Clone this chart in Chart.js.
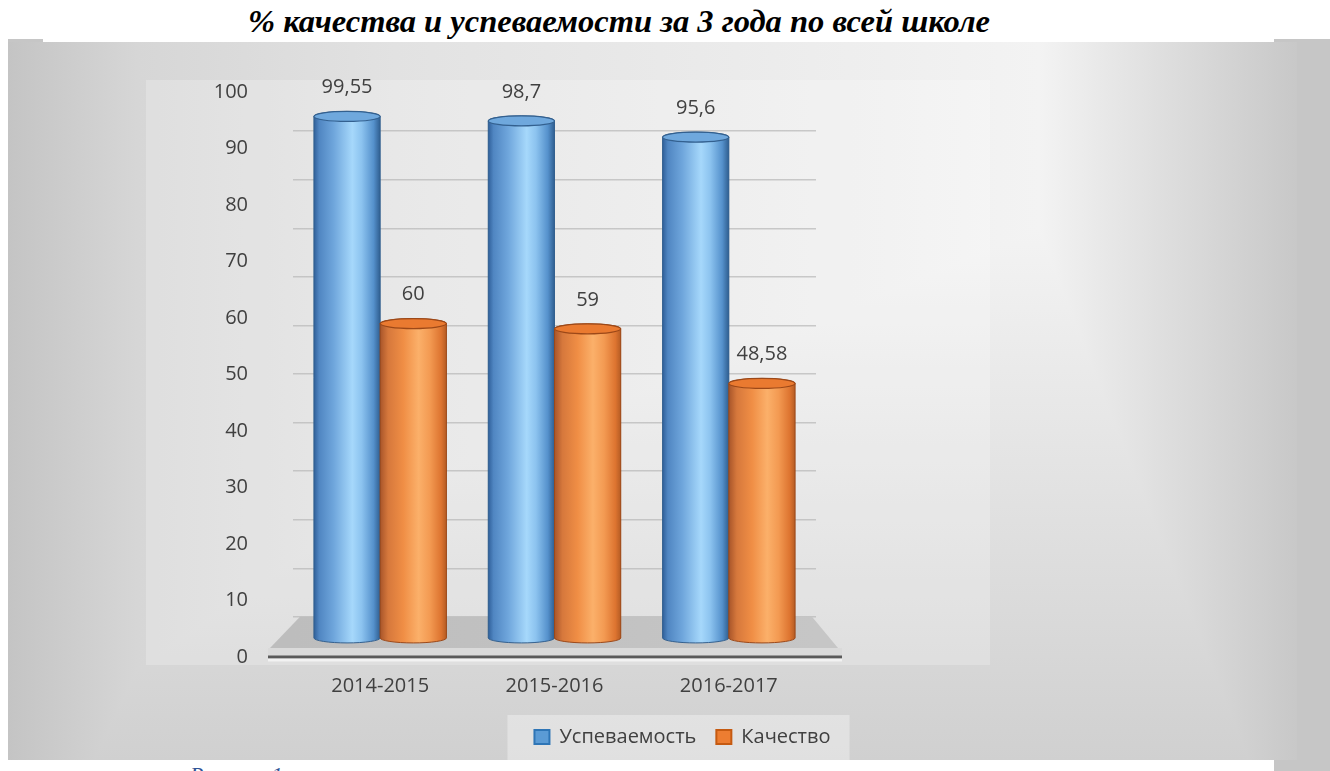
<!DOCTYPE html>
<html lang="ru">
<head>
<meta charset="utf-8">
<title>% качества и успеваемости за 3 года по всей школе</title>
<script src="https://cdn.jsdelivr.net/npm/chart.js@4.4.1/dist/chart.umd.min.js"></script>
<style>
    html, body { margin: 0; padding: 0; background: #fff; width: 1330px; height: 771px; overflow: hidden; position: relative; }
    #title { position: absolute; left: 0; width: 1238px; top: 3px; text-align: center; white-space: nowrap;
             font: italic bold 32.5px "Liberation Serif", "DejaVu Serif", serif; color: #000; }
    #strip { position: absolute; left: 1274px; top: 39px; width: 56px; height: 732px; background: #c6c6c6; }
    #chip { position: absolute; left: 8px; top: 39px; width: 35px; height: 4px; background: #c6c6c6; }
    #panel { position: absolute; left: 8px; top: 42px; width: 1289px; height: 718px; }
    #caption { position: absolute; left: 190px; top: 762px; font: italic 22px "Liberation Serif", serif; color: #2f5496; }
</style>
</head>
<body>
<div id="title">% качества и успеваемости за 3 года по всей школе</div>
<div id="strip"></div>
<div id="chip"></div>
<div id="panel"><canvas id="chart" width="1289" height="718"></canvas></div>
<div id="caption">Рисунок 1</div>
<script>
// 3D-style cylinder column chart (Excel look) drawn with Chart.js v4.

const CATEGORIES = ['2014-2015', '2015-2016', '2016-2017'];
const SERIES_NAMES = ['Успеваемость', 'Качество'];
const USPEVAEMOST = [99.55, 98.7, 95.6];
const KACHESTVO = [60, 59, 48.58];
const TICK_VALUES = [0, 10, 20, 30, 40, 50, 60, 70, 80, 90, 100];

const TEXT_COLOR = '#404040';
const FONT = 'Open Sans';

// three vertical scales share one chart area (page y 92..655):
// labels 0..100 at the front, columns a bit higher, back-wall grid further back
const AREA_TOP = 92, AREA_BOTTOM = 655;
const BAR_ZERO = 636, BAR_PX = 5.22;
const GRID_ZERO = 615, GRID_PX = 4.84;
const BAR_MIN = -(AREA_BOTTOM - BAR_ZERO) / BAR_PX;
const BAR_MAX = (BAR_ZERO - AREA_TOP) / BAR_PX;
const GRID_MIN = -(AREA_BOTTOM - GRID_ZERO) / GRID_PX;
const GRID_MAX = (GRID_ZERO - AREA_TOP) / GRID_PX;

const CYL = [
    { fill: '#5b9bd5', border: '#2e75b6', cap: '#6fa8dd', rim: '#33608f',
      stops: [[0, '#30609a'], [0.08, '#5086c2'], [0.3, '#6fa6dc'], [0.58, '#a6d8fb'],
              [0.72, '#8cc3ef'], [0.9, '#5591cc'], [1, '#2f5e90']] },
    { fill: '#ed7d31', border: '#c55a11', cap: '#ea7a30', rim: '#9c4818',
      stops: [[0, '#a8552a'], [0.12, '#d6783c'], [0.35, '#f08e45'], [0.58, '#fbb06a'],
              [0.75, '#f39a52'], [0.92, '#dd7430'], [1, '#b55c24']] }
];

function fmt(v) {
    return String(v).replace('.', ',');
}

const backgroundPlugin = {
    id: 'panelBackground',
    beforeDraw(chart) {
        const { ctx, width, height } = chart;
        ctx.save();
        const h = ctx.createLinearGradient(0, 0, width, 0);
        h.addColorStop(0, '#c4c4c4');
        h.addColorStop(0.1, '#d6d6d6');
        h.addColorStop(0.3, '#e2e2e2');
        h.addColorStop(0.8, '#f3f3f3');
        h.addColorStop(1, '#c8c8c8');
        ctx.fillStyle = h;
        ctx.fillRect(0, 0, width, height);
        const v = ctx.createLinearGradient(0, 0, 0, height);
        v.addColorStop(0, '#ffffff');
        v.addColorStop(0.5, '#e8e8e8');
        v.addColorStop(1, '#d0d0d0');
        ctx.globalCompositeOperation = 'darken';
        ctx.fillStyle = v;
        ctx.fillRect(0, 0, width, height);
        ctx.globalCompositeOperation = 'source-over';
        // lighter plot area
        ctx.fillStyle = 'rgba(255,255,255,0.22)';
        ctx.fillRect(138, 38, 844, 585);
        // lighter legend box around legend items
        const boxes = chart.legend && chart.legend.legendHitBoxes;
        if (boxes && boxes.length) {
            const l = Math.min(...boxes.map(b => b.left));
            const r = Math.max(...boxes.map(b => b.left + b.width));
            const cy = boxes[0].top + boxes[0].height / 2;
            ctx.fillStyle = 'rgba(255,255,255,0.35)';
            ctx.fillRect(l - 27, cy - 22, r - l + 46, height - (cy - 22));
        }
        ctx.restore();
    }
};

const floorPlugin = {
    id: 'floor',
    beforeDatasetsDraw(chart) {
        const { ctx, chartArea, scales } = chart;
        const back = scales.yGrid.getPixelForValue(0);
        const front = scales.y.getPixelForValue(0) + 10;
        const axisY = scales.yTicks.getPixelForValue(0);
        const l = chartArea.left, r = chartArea.right;
        ctx.save();
        ctx.fillStyle = '#dadada';
        ctx.fillRect(l - 25, front, r - l + 51, axisY - front);
        const g = ctx.createLinearGradient(l, 0, r, 0);
        g.addColorStop(0, '#bdbdbd');
        g.addColorStop(1, '#c6c6c6');
        ctx.fillStyle = g;
        ctx.beginPath();
        ctx.moveTo(l + 7, back);
        ctx.lineTo(r - 4, back);
        ctx.lineTo(r + 22, front);
        ctx.lineTo(l - 23, front);
        ctx.closePath();
        ctx.fill();
        // axis line
        ctx.fillStyle = '#5a5a5a';
        ctx.fillRect(l - 25, axisY - 1.5, r - l + 51, 3);
        ctx.fillStyle = 'rgba(255,255,255,0.6)';
        ctx.fillRect(l - 25, axisY + 1.5, r - l + 51, 3);
        ctx.restore();
    }
};

const cylinderPlugin = {
    id: 'cylinders',
    afterDatasetsDraw(chart) {
        const ctx = chart.ctx;
        const ry = 5;
        chart.data.datasets.forEach((ds, di) => {
            const meta = chart.getDatasetMeta(di);
            const st = CYL[di];
            meta.data.forEach((el, i) => {
                const w = el.width, rx = w / 2;
                const left = el.x - rx, right = el.x + rx;
                ctx.save();
                const g = ctx.createLinearGradient(left, 0, right, 0);
                st.stops.forEach(([o, c]) => g.addColorStop(o, c));
                ctx.fillStyle = g;
                ctx.beginPath();
                ctx.moveTo(left, el.y);
                ctx.lineTo(left, el.base);
                ctx.ellipse(el.x, el.base, rx, ry, 0, Math.PI, 0, true);
                ctx.lineTo(right, el.y);
                ctx.ellipse(el.x, el.y, rx, ry, 0, 0, Math.PI, true);
                ctx.closePath();
                ctx.fill();
                ctx.strokeStyle = st.rim;
                ctx.lineWidth = 1;
                ctx.stroke();
                // top cap
                ctx.beginPath();
                ctx.ellipse(el.x, el.y, rx, ry, 0, 0, Math.PI * 2);
                ctx.fillStyle = st.cap;
                ctx.fill();
                ctx.strokeStyle = st.rim;
                ctx.lineWidth = 1.2;
                ctx.stroke();
                // value label
                ctx.fillStyle = TEXT_COLOR;
                ctx.font = `20px "${FONT}"`;
                ctx.textAlign = 'center';
                ctx.textBaseline = 'middle';
                ctx.fillText(fmt(ds.data[i]), el.x, el.y - 29);
                ctx.restore();
            });
        });
    }
};

Chart.defaults.font.family = FONT;
Chart.defaults.color = TEXT_COLOR;

new Chart(document.getElementById('chart'), {
    type: 'bar',
    data: {
        labels: CATEGORIES,
        datasets: [
            { label: SERIES_NAMES[0], data: USPEVAEMOST, yAxisID: 'y',
              backgroundColor: CYL[0].fill, borderColor: CYL[0].border, borderWidth: 2 },
            { label: SERIES_NAMES[1], data: KACHESTVO, yAxisID: 'y',
              backgroundColor: CYL[1].fill, borderColor: CYL[1].border, borderWidth: 2 }
        ]
    },
    options: {
        responsive: false,
        animation: false,
        layout: { padding: { left: 60, right: 0, top: AREA_TOP - 42, bottom: 3 } },
        datasets: { bar: { categoryPercentage: 0.76, barPercentage: 1 } },
        plugins: {
            title: { display: false },
            tooltip: { enabled: false },
            legend: {
                position: 'bottom',
                labels: { boxWidth: 15, boxHeight: 14, padding: 20, color: TEXT_COLOR,
                          font: { size: 20, family: FONT } }
            }
        },
        scales: {
            x: {
                grid: { display: false },
                border: { display: false },
                ticks: { font: { size: 20 }, color: TEXT_COLOR, padding: 9 },
                afterFit: s => { s.height = 50; }
            },
            yTicks: {
                position: 'left',
                min: 0, max: 100,
                afterBuildTicks: s => { s.ticks = TICK_VALUES.map(v => ({ value: v })); },
                grid: { display: false, drawTicks: false },
                border: { display: false },
                ticks: { font: { size: 20 }, color: TEXT_COLOR, padding: 45 },
                afterFit: s => { s.width = 225; s.paddingTop = 0; s.paddingBottom = 0; }
            },
            y: { display: false, min: BAR_MIN, max: BAR_MAX },
            yGrid: {
                position: 'right',
                min: GRID_MIN, max: GRID_MAX,
                afterBuildTicks: s => { s.ticks = TICK_VALUES.map(v => ({ value: v })); },
                grid: { color: 'rgba(185,185,185,0.75)', lineWidth: 1.5, drawTicks: false },
                border: { display: false },
                ticks: { display: false },
                afterFit: s => { s.width = 481; s.paddingTop = 0; s.paddingBottom = 0; }
            }
        }
    },
    plugins: [backgroundPlugin, floorPlugin, cylinderPlugin]
});
</script>
</body>
</html>
